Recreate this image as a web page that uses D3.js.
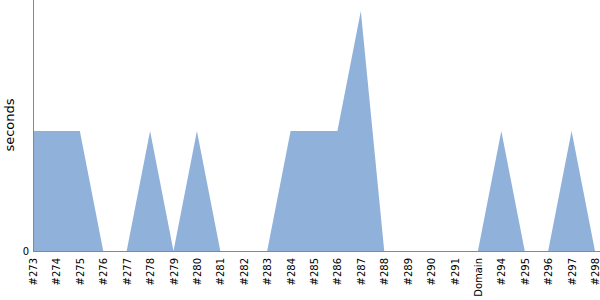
<!DOCTYPE html>
<html>
<head>
<meta charset="utf-8">
<script src="https://cdn.jsdelivr.net/npm/d3@7"></script>
<style>
  body { margin: 0; background: #fff; }
  svg { display: block; }
</style>
</head>
<body>
<div id="viz"></div>
<script>
const width = 600;
const height = 300;

// build names along the x axis
const builds = ["#273", "#274", "#275", "#276", "#277", "#278", "#279", "#280", "#281",
  "#282", "#283", "#284", "#285", "#286", "#287", "#288", "#289", "#290", "#291",
  "Domain", "#294", "#295", "#296", "#297", "#298"];
// duration in seconds per build
const seconds = [1, 1, 1, 0, 0, 1, 0, 1, 0, 0, 0, 1, 1, 1, 2, 0, 0, 0, 0, 0, 1, 0, 0, 1, 0];
const yTicks = [0];

const font = "'DejaVu Sans', sans-serif";

const svg = d3.select("#viz")
  .append("svg")
  .attr("width", width)
  .attr("height", height);

const x = d3.scalePoint()
  .domain(builds)
  .range([33, 595]);

const y = d3.scaleLinear()
  .domain([0, 2])
  .range([251, 11]);

const data = builds.map((b, i) => ({ build: b, value: seconds[i] }));

const area = d3.area()
  .x(d => x(d.build))
  .y0(y(0))
  .y1(d => y(d.value));

svg.append("path")
  .datum(data)
  .attr("d", area)
  .attr("fill", "#90b2da");

// axes
const xAxis = svg.append("g")
  .attr("transform", `translate(0,${y(0)})`)
  .attr("font-family", font)
  .call(d3.axisBottom(x).tickSize(0).tickPadding(0));
xAxis.attr("font-family", font).attr("font-size", 10);
xAxis.select(".domain")
  .attr("d", `M33,0.5H600`)
  .attr("stroke", "#888");
xAxis.selectAll("text")
  .attr("fill", "#000")
  .attr("text-anchor", "end")
  .attr("dy", "0.35em")
  .attr("transform", "translate(0,7) rotate(-90)")
  .attr("y", 0)
  .attr("x", 0);

const yAxis = svg.append("g")
  .attr("transform", "translate(33,0)")
  .call(d3.axisLeft(y).tickValues(yTicks).tickFormat(d3.format("d")).tickSize(0).tickPadding(4));
yAxis.attr("font-family", font).attr("font-size", 10);
yAxis.select(".domain")
  .attr("d", `M0.5,0V${y(0)}`)
  .attr("stroke", "#888");
yAxis.selectAll("text")
  .attr("fill", "#000");

svg.append("text")
  .attr("transform", `translate(14,125) rotate(-90)`)
  .attr("text-anchor", "middle")
  .attr("font-family", font)
  .attr("font-size", "13px")
  .attr("fill", "#000")
  .text("seconds");
</script>
</body>
</html>
